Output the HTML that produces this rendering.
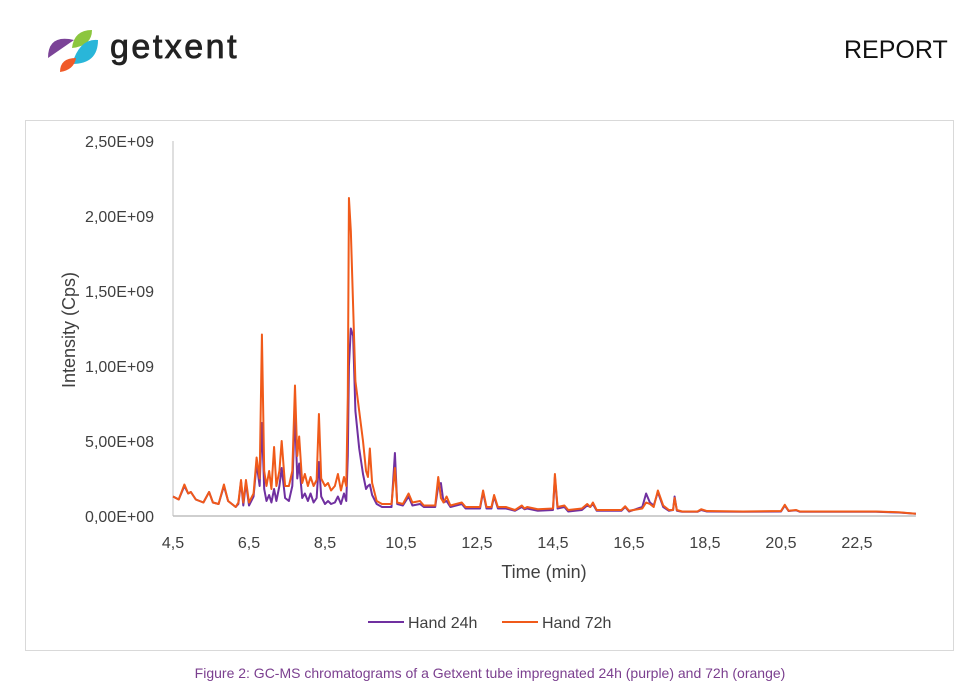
<!DOCTYPE html>
<html><head><meta charset="utf-8"><style>
body{margin:0;width:980px;height:696px;background:#fff;overflow:hidden;font-family:"Liberation Sans",sans-serif;position:relative}
.abs{position:absolute}
</style></head><body>
<div class="abs" style="left:46px;top:26px;width:230px;height:48px">
<svg width="230" height="48">
<path d="M2 32 Q2 8 28 14 Z" fill="#7b4397"/>
<path d="M26 22 Q28 4 46 4 Q46 20 26 22 Z" fill="#8cc63f"/>
<path d="M26 38 Q34 12 52 14 Q52 38 26 38 Z" fill="#29b6d9"/>
<path d="M14 46 Q14 32 30 32 Q28 44 14 46 Z" fill="#f05a28"/>
<text x="64" y="32" font-family="Liberation Sans, sans-serif" font-size="34" fill="#222" stroke="#222" stroke-width="0.8" letter-spacing="2.5">getxent</text>
</svg></div>
<div class="abs" style="left:844px;top:36px;font-size:25px;color:#111">REPORT</div>
<div class="abs" style="left:25px;top:120px;width:927px;height:529px;border:1px solid #d9d9d9"></div>
<svg class="abs" style="left:0;top:0" width="980" height="696" id="chart"></svg>
<div class="abs" style="left:0;width:980px;top:665px;text-align:center;font-size:14px;color:#7b3f8f">Figure 2: GC-MS chromatograms of a Getxent tube impregnated 24h (purple) and 72h (orange)</div>
<script>
const yTicks=[0,5e8,1e9,1.5e9,2e9,2.5e9];
const yTickLabels=["0,00E+00","5,00E+08","1,00E+09","1,50E+09","2,00E+09","2,50E+09"];
const xTicks=[4.5,6.5,8.5,10.5,12.5,14.5,16.5,18.5,20.5,22.5];
const xTickLabels=["4,5","6,5","8,5","10,5","12,5","14,5","16,5","18,5","20,5","22,5"];
const times=[4.5,4.65,4.8,4.9,4.97,5.1,5.3,5.45,5.55,5.7,5.84,5.95,6.15,6.22,6.29,6.35,6.42,6.5,6.62,6.7,6.78,6.84,6.9,6.96,7.03,7.09,7.16,7.22,7.3,7.36,7.45,7.55,7.64,7.71,7.77,7.82,7.9,7.97,8.05,8.12,8.2,8.28,8.34,8.4,8.5,8.58,8.66,8.76,8.84,8.92,9.0,9.06,9.1,9.13,9.18,9.24,9.3,9.4,9.5,9.58,9.63,9.68,9.74,9.86,10.0,10.25,10.34,10.4,10.55,10.7,10.8,11.0,11.1,11.4,11.48,11.55,11.62,11.7,11.8,12.1,12.2,12.58,12.66,12.75,12.88,12.95,13.05,13.26,13.5,13.68,13.75,13.82,14.1,14.5,14.55,14.62,14.8,14.9,15.26,15.4,15.48,15.55,15.65,16.3,16.4,16.5,16.85,16.95,17.05,17.15,17.26,17.4,17.55,17.66,17.7,17.76,17.9,18.3,18.4,18.55,19.5,20.5,20.6,20.7,20.9,21.0,22.0,23.0,23.6,24.05];
const orangeValues=[1.3,1.1,2.1,1.5,1.6,1.1,0.9,1.6,0.9,0.8,2.1,1.0,0.6,0.9,2.4,0.9,2.4,0.9,1.5,3.9,2.5,12.1,3.0,2.0,3.0,1.8,4.6,2.0,3.0,5.0,2.0,2.0,3.0,8.7,4.0,5.3,2.2,2.8,2.0,2.6,2.0,2.4,6.8,2.5,2.0,2.2,1.7,2.0,2.8,1.7,2.6,2.0,8,21.2,19,14,9,7,5,3.0,2.6,4.5,2.2,1.0,0.8,0.8,3.2,0.9,0.8,1.5,0.9,1.0,0.7,0.7,2.6,1.2,0.9,1.3,0.7,0.9,0.6,0.6,1.7,0.6,0.6,1.4,0.6,0.6,0.4,0.7,0.5,0.6,0.45,0.5,2.8,0.6,0.7,0.4,0.5,0.8,0.6,0.9,0.4,0.4,0.65,0.35,0.5,0.9,0.8,0.6,1.7,0.7,0.4,0.4,1.2,0.4,0.3,0.3,0.45,0.33,0.3,0.33,0.75,0.35,0.4,0.3,0.3,0.3,0.25,0.15].map(v=>v*1e8);
const purpleValues=[1.3,1.1,2.0,1.5,1.6,1.1,0.9,1.6,0.9,0.8,2.0,1.0,0.6,0.8,2.3,0.7,2.2,0.7,1.3,3.5,2.0,6.2,1.8,1.0,1.4,0.9,1.8,1.0,2.0,3.2,1.2,1.0,2.0,6.9,2.5,3.5,1.2,1.5,1.0,1.5,0.9,1.2,3.6,1.3,0.8,1.0,0.8,0.9,1.3,0.8,1.5,1.0,4,10,12.5,12,7,4.5,2.8,1.8,2.0,2.1,1.4,0.8,0.6,0.6,4.2,0.8,0.7,1.3,0.7,0.8,0.6,0.6,2.0,2.2,0.9,1.0,0.6,0.8,0.5,0.5,1.6,0.5,0.5,1.3,0.5,0.5,0.35,0.6,0.45,0.5,0.35,0.4,2.6,0.5,0.6,0.3,0.4,0.7,0.6,0.8,0.35,0.35,0.6,0.3,0.6,1.5,0.9,0.7,1.6,0.6,0.35,0.4,1.3,0.35,0.28,0.28,0.4,0.3,0.28,0.3,0.7,0.33,0.38,0.28,0.28,0.28,0.23,0.15].map(v=>v*1e8);
const NS="http://www.w3.org/2000/svg";
const svg=document.getElementById('chart');
const X0=173,XPX=38,Y0=516,YPX=150/1e9;
function xs(t){return X0+(t-4.5)*XPX;}
function ys(v){return Y0-v*YPX;}
function mk(tag,attrs,text){const e=document.createElementNS(NS,tag);for(const k in attrs)e.setAttribute(k,attrs[k]);if(text!==undefined)e.textContent=text;svg.appendChild(e);return e;}
let ax=mk('line',{x1:X0,y1:141,x2:X0,y2:Y0,stroke:'#bfbfbf','stroke-width':1});


let bx=mk('line',{x1:X0,y1:Y0,x2:xs(24.05),y2:Y0,stroke:'#bfbfbf','stroke-width':1.5});


yTicks.forEach((v,i)=>{const t=mk('text',{x:154,y:ys(v)+6,'text-anchor':'end','font-size':16,fill:'#404040'},yTickLabels[i]);

});
xTicks.forEach((v,i)=>{const t=mk('text',{x:xs(v),y:548,'text-anchor':'middle','font-size':16,fill:'#404040'},xTickLabels[i]);

});
let xt=mk('text',{x:544,y:578,'text-anchor':'middle','font-size':18,fill:'#404040'},'Time (min)');


let yt=mk('text',{x:0,y:0,'text-anchor':'middle','font-size':18,fill:'#404040',transform:'translate(75,330) rotate(-90)'},'Intensity (Cps)');


function line(T,V,color,name){const p=mk('polyline',{points:T.map((t,i)=>xs(t)+','+ys(V[i])).join(' '),fill:'none',stroke:color,'stroke-width':2,'stroke-linejoin':'round'});

}
line(times,purpleValues,'#7030a0','series-hand-24h');
line(times,orangeValues,'#f05a1a','series-hand-72h');
let l1=mk('line',{x1:368,y1:622,x2:404,y2:622,stroke:'#7030a0','stroke-width':2});


let t1=mk('text',{x:408,y:628,'font-size':16,fill:'#404040'},'Hand 24h');


let l2=mk('line',{x1:502,y1:622,x2:538,y2:622,stroke:'#f05a1a','stroke-width':2});


let t2=mk('text',{x:542,y:628,'font-size':16,fill:'#404040'},'Hand 72h');


</script>
</body></html>
